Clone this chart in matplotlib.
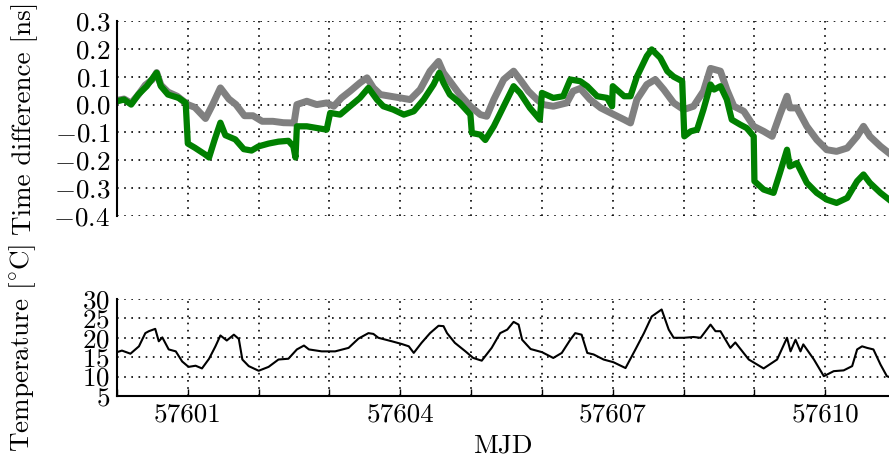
import numpy as np
import matplotlib
matplotlib.use("Agg")
import matplotlib.pyplot as plt
from matplotlib.ticker import MultipleLocator, FuncFormatter

plt.rcParams['font.family'] = ['cmr10', 'DejaVu Serif']
plt.rcParams['mathtext.fontset'] = 'cm'
plt.rcParams['axes.formatter.use_mathtext'] = True
plt.rcParams['font.size'] = 19.5

# time difference, grey link (MJD, ns)
gray_t = [57600.00, 57600.10, 57600.20, 57600.30, 57600.40, 57600.50, 57600.56, 57600.62,
          57600.72, 57600.85, 57600.95, 57601.00, 57601.10, 57601.25, 57601.35, 57601.46,
          57601.58, 57601.68, 57601.80, 57601.92, 57602.05, 57602.20, 57602.35, 57602.50,
          57602.54, 57602.68, 57602.82, 57602.96, 57603.06, 57603.17, 57603.29, 57603.43,
          57603.53, 57603.62, 57603.72, 57603.86, 57604.00, 57604.14, 57604.28, 57604.42,
          57604.54, 57604.61, 57604.70, 57604.84, 57604.99, 57605.13, 57605.22, 57605.32,
          57605.46, 57605.60, 57605.69, 57605.81, 57605.93, 57606.02, 57606.16, 57606.35,
          57606.44, 57606.54, 57606.68, 57606.83, 57606.97, 57607.16, 57607.25, 57607.34,
          57607.48, 57607.60, 57607.72, 57607.86, 57608.00, 57608.14, 57608.28, 57608.38,
          57608.52, 57608.61, 57608.71, 57608.85, 57608.99, 57609.13, 57609.25, 57609.36,
          57609.46, 57609.50, 57609.60, 57609.74, 57609.88, 57610.02, 57610.16, 57610.31,
          57610.45, 57610.54, 57610.63, 57610.78, 57610.90]
gray_v = [0.015, 0.020, 0.005, 0.035, 0.070, 0.090, 0.115, 0.070,
          0.045, 0.030, 0.010, 0.000, -0.010, -0.050, 0.000, 0.060,
          0.020, 0.000, -0.040, -0.040, -0.060, -0.060, -0.065, -0.066,
          0.000, 0.012, 0.000, 0.006, -0.006, 0.024, 0.048, 0.078,
          0.096, 0.060, 0.036, 0.030, 0.024, 0.018, 0.054, 0.120,
          0.155, 0.114, 0.084, 0.036, -0.006, -0.036, -0.042, 0.018,
          0.090, 0.120, 0.090, 0.048, 0.018, 0.000, -0.006, 0.006,
          0.048, 0.058, 0.018, -0.012, -0.030, -0.054, -0.066, 0.018,
          0.072, 0.090, 0.054, 0.006, -0.018, -0.006, 0.048, 0.130,
          0.120, 0.054, -0.006, -0.024, -0.078, -0.096, -0.114, -0.036,
          0.030, -0.012, -0.012, -0.078, -0.126, -0.162, -0.168, -0.156,
          -0.114, -0.078, -0.114, -0.150, -0.174]

# time difference, green link (MJD, ns)
green_t = [57600.00, 57600.10, 57600.20, 57600.30, 57600.42, 57600.56, 57600.62, 57600.72,
           57600.87, 57600.97, 57601.00, 57601.10, 57601.25, 57601.30, 57601.38, 57601.46,
           57601.53, 57601.67, 57601.79, 57601.90, 57602.00, 57602.14, 57602.28, 57602.42,
           57602.49, 57602.52, 57602.54, 57602.68, 57602.82, 57602.96, 57603.01, 57603.15,
           57603.29, 57603.43, 57603.55, 57603.67, 57603.76, 57603.90, 57604.05, 57604.19,
           57604.33, 57604.47, 57604.55, 57604.61, 57604.70, 57604.84, 57604.99, 57605.01,
           57605.13, 57605.20, 57605.32, 57605.46, 57605.60, 57605.69, 57605.83, 57605.97,
           57606.00, 57606.16, 57606.30, 57606.40, 57606.54, 57606.64, 57606.78, 57606.92,
           57606.99, 57607.00, 57607.16, 57607.25, 57607.34, 57607.48, 57607.55, 57607.67,
           57607.77, 57607.86, 57607.98, 57608.01, 57608.10, 57608.19, 57608.28, 57608.38,
           57608.43, 57608.52, 57608.61, 57608.68, 57608.80, 57608.89, 57608.99, 57609.00,
           57609.13, 57609.27, 57609.36, 57609.46, 57609.50, 57609.60, 57609.74, 57609.88,
           57610.02, 57610.16, 57610.31, 57610.45, 57610.54, 57610.63, 57610.78, 57610.90]
green_v = [0.012, 0.018, 0.000, 0.036, 0.066, 0.114, 0.066, 0.036,
           0.024, 0.006, -0.140, -0.155, -0.180, -0.190, -0.125, -0.065,
           -0.110, -0.125, -0.160, -0.165, -0.150, -0.140, -0.133, -0.130,
           -0.150, -0.190, -0.078, -0.078, -0.084, -0.090, -0.030, -0.036,
           -0.006, 0.024, 0.060, 0.018, -0.006, -0.018, -0.036, -0.024,
           0.018, 0.072, 0.114, 0.078, 0.036, 0.006, -0.036, -0.102,
           -0.108, -0.127, -0.078, -0.006, 0.066, 0.042, -0.012, -0.054,
           0.042, 0.024, 0.030, 0.090, 0.084, 0.066, 0.030, 0.024,
           -0.006, 0.066, 0.030, 0.030, 0.100, 0.174, 0.198, 0.168,
           0.120, 0.100, 0.084, -0.114, -0.096, -0.090, -0.018, 0.072,
           0.054, 0.066, 0.018, -0.054, -0.072, -0.084, -0.114, -0.275,
           -0.305, -0.317, -0.245, -0.162, -0.222, -0.210, -0.281, -0.317,
           -0.341, -0.353, -0.335, -0.275, -0.251, -0.281, -0.317, -0.341]

# temperature (MJD, degC)
temp_t = [57600.00, 57600.07, 57600.19, 57600.31, 57600.40, 57600.45, 57600.54, 57600.59,
          57600.64, 57600.73, 57600.83, 57600.92, 57601.01, 57601.11, 57601.20, 57601.30,
          57601.39, 57601.46, 57601.55, 57601.65, 57601.72, 57601.77, 57601.86, 57602.00,
          57602.14, 57602.28, 57602.42, 57602.54, 57602.64, 57602.71, 57602.89, 57603.08,
          57603.27, 57603.41, 57603.55, 57603.62, 57603.69, 57603.88, 57604.02, 57604.12,
          57604.19, 57604.30, 57604.42, 57604.54, 57604.61, 57604.66, 57604.77, 57604.92,
          57605.03, 57605.15, 57605.29, 57605.41, 57605.51, 57605.60, 57605.67, 57605.72,
          57605.84, 57606.00, 57606.16, 57606.28, 57606.40, 57606.47, 57606.56, 57606.64,
          57606.73, 57606.87, 57607.01, 57607.18, 57607.32, 57607.44, 57607.55, 57607.69,
          57607.79, 57607.86, 57608.00, 57608.14, 57608.24, 57608.38, 57608.45, 57608.52,
          57608.66, 57608.73, 57608.92, 57609.13, 57609.32, 57609.46, 57609.51, 57609.58,
          57609.65, 57609.69, 57609.84, 57609.98, 57610.12, 57610.26, 57610.38, 57610.45,
          57610.52, 57610.59, 57610.68, 57610.78, 57610.87, 57610.90]
temp_v = [16.3, 16.7, 15.9, 17.8, 21.2, 21.7, 22.3, 19.1,
          20.1, 17.0, 16.5, 13.9, 12.5, 12.8, 12.1, 14.6,
          17.8, 20.6, 19.3, 20.8, 19.7, 14.4, 12.7, 11.5,
          12.5, 14.4, 14.6, 17.0, 18.0, 17.0, 16.5, 16.5,
          17.4, 19.8, 21.2, 21.0, 20.0, 19.1, 18.4, 17.8,
          16.1, 18.7, 21.2, 23.1, 23.0, 21.2, 18.7, 16.5,
          14.8, 14.1, 17.4, 21.2, 22.1, 24.1, 23.4, 19.5,
          17.1, 16.3, 14.8, 16.1, 19.5, 21.2, 20.8, 16.1,
          15.7, 14.4, 13.7, 12.2, 17.0, 21.2, 25.5, 27.3,
          22.1, 20.0, 20.0, 20.2, 20.0, 23.4, 21.7, 21.7,
          17.4, 18.8, 14.4, 12.1, 14.4, 20.0, 16.5, 19.5,
          16.5, 18.3, 14.4, 10.1, 11.4, 11.6, 12.7, 17.0,
          17.8, 17.4, 17.0, 13.1, 10.1, 9.9]

label_days = [57601, 57604, 57607, 57610]

fig = plt.figure(figsize=(8.89, 4.59), dpi=100)
ax1 = fig.add_axes([0.1316, 0.5294, 0.8684, 0.4248])
ax2 = fig.add_axes([0.1316, 0.1373, 0.8684, 0.2113])

# top panel
ax1.plot(gray_t, gray_v, color='gray', lw=5, solid_joinstyle='round')
ax1.plot(green_t, green_v, color='green', lw=4.5, solid_joinstyle='round')
ax1.set_ylim(-0.4, 0.3)
ax1.yaxis.set_major_locator(MultipleLocator(0.1))
ax1.set_ylabel('Time difference [ns]')

# bottom panel
ax2.plot(temp_t, temp_v, color='black', lw=1.5)
ax2.set_ylim(5, 30)
ax2.yaxis.set_major_locator(MultipleLocator(5))
ax2.set_ylabel(r'Temperature [$^{\circ}$C]')
ax2.set_xlabel('MJD', labelpad=5)

fmt = FuncFormatter(lambda x, pos: '%d' % round(x) if round(x) in label_days else '')

for ax in (ax1, ax2):
    ax.set_xlim(57600, 57610.9)
    ax.xaxis.set_major_locator(MultipleLocator(1))
    ax.xaxis.set_major_formatter(fmt)
    ax.grid(True, color='black', linestyle=(0, (1, 3.3)), linewidth=1.2)
    ax.spines['top'].set_visible(False)
    ax.spines['right'].set_visible(False)
    ax.spines['left'].set_linewidth(1.5)
    ax.spines['bottom'].set_linewidth(1.5)
    ax.tick_params(direction='in', length=5, width=1, pad=5)
    ax.tick_params(axis='y', length=0)
    ax.yaxis.set_label_coords(-0.102, 0.5)

ax1.spines['bottom'].set_visible(False)
ax1.tick_params(axis='x', length=0, labelbottom=False)

fig.savefig('out.png', dpi=100)
